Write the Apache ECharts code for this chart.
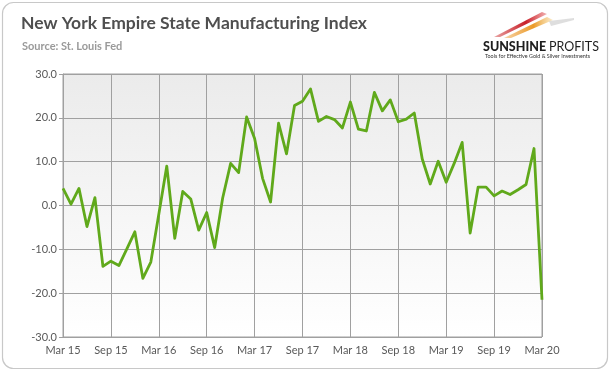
<!DOCTYPE html>
<html>
<head>
<meta charset="utf-8">
<script src="https://cdn.jsdelivr.net/npm/echarts@6/dist/echarts.min.js"></script>
<style>
html,body{margin:0;padding:0;background:#fff;}
#c{width:611px;height:372px;}
</style>
</head>
<body>
<div id="c"></div>
<script>
const months = [
 'Mar 15','Apr 15','May 15','Jun 15','Jul 15','Aug 15','Sep 15','Oct 15','Nov 15','Dec 15',
 'Jan 16','Feb 16','Mar 16','Apr 16','May 16','Jun 16','Jul 16','Aug 16','Sep 16','Oct 16','Nov 16','Dec 16',
 'Jan 17','Feb 17','Mar 17','Apr 17','May 17','Jun 17','Jul 17','Aug 17','Sep 17','Oct 17','Nov 17','Dec 17',
 'Jan 18','Feb 18','Mar 18','Apr 18','May 18','Jun 18','Jul 18','Aug 18','Sep 18','Oct 18','Nov 18','Dec 18',
 'Jan 19','Feb 19','Mar 19','Apr 19','May 19','Jun 19','Jul 19','Aug 19','Sep 19','Oct 19','Nov 19','Dec 19',
 'Jan 20','Feb 20','Mar 20'
];
const indexValues = [
 3.9, 0.3, 3.9, -4.8, 1.8, -13.9, -12.7, -13.7, -9.9, -6.0,
 -16.6, -12.9, -2.0, 9.0, -7.5, 3.2, 1.5, -5.6, -1.6, -9.6, 1.7, 9.6,
 7.5, 20.2, 15.3, 6.2, 0.8, 18.8, 11.8, 22.8, 23.8, 26.6, 19.2, 20.3,
 19.6, 17.7, 23.6, 17.4, 17.0, 25.8, 21.6, 24.1, 19.1, 19.7, 21.1, 10.6,
 4.9, 10.1, 5.3, 9.6, 14.4, -6.3, 4.2, 4.2, 2.2, 3.3, 2.5, 3.6,
 4.8, 13.0, -21.5
];
const yTicks = [-30, -20, -10, 0, 10, 20, 30];
const labelEvery = 6;

const chart = echarts.init(document.getElementById('c'), null, {renderer: 'canvas'});
const gridColor = '#a0a0a0';
const font = 'Lato, "Open Sans", sans-serif';

chart.setOption({
  animation: false,
  backgroundColor: '#fff',
  graphic: [
    {type: 'rect', shape: {x: 2.5, y: 2.5, width: 605, height: 366, r: 11},
     style: {fill: 'none', stroke: '#c8c8c8', lineWidth: 1.2}, z: -10},
    {type: 'text', left: 21, top: 14,
     style: {text: 'New York Empire State Manufacturing Index', fill: '#4f4f4f',
             font: 'bold 17.5px ' + font}},
    {type: 'text', left: 22, top: 41,
     style: {text: 'Source: St. Louis Fed', fill: '#9a9a9a', font: 'bold 11px ' + font}},
    {type: 'polygon', shape: {points: [[494, 37], [542, 12], [547, 14], [500, 37]]},
     style: {fill: new echarts.graphic.LinearGradient(0, 0, 1, 0, [
       {offset: 0, color: 'rgba(200,30,30,0.4)'}, {offset: 0.6, color: '#c8202a'}, {offset: 1, color: 'rgba(220,60,60,0.4)'}])}},
    {type: 'polygon', shape: {points: [[504, 38], [547, 17], [553, 20], [511, 38]]},
     style: {fill: new echarts.graphic.LinearGradient(0, 0, 1, 0, [
       {offset: 0, color: 'rgba(235,150,40,0.4)'}, {offset: 0.6, color: '#eb9a28'}, {offset: 1, color: 'rgba(240,190,90,0.3)'}])}},
    {type: 'polygon', shape: {points: [[549, 21], [574, 18], [574, 20], [551, 26]]},
     style: {fill: 'rgba(200,200,200,0.6)'}},
    {type: 'text', left: 483, top: 40,
     style: {rich: {a: {font: '900 12.5px ' + font, fill: '#1e1e1e'}, b: {font: '12.5px ' + font, fill: '#1e1e1e'}},
             text: '{a|SUNSHINE }{b|PROFITS}'}},
    {type: 'text', left: 485, top: 54,
     style: {text: 'Tools for Effective Gold & Silver Investments', fill: '#333', font: '5.4px ' + font}}
  ],
  grid: {
    left: 63, right: 69, top: 74, bottom: 35, containLabel: false,
    show: true, borderColor: gridColor, borderWidth: 1,
    backgroundColor: new echarts.graphic.LinearGradient(0, 0, 0, 1, [
      {offset: 0, color: '#ebebeb'}, {offset: 1, color: '#ffffff'}])
  },
  xAxis: {
    type: 'category', data: months, boundaryGap: false,
    axisLine: {show: true, lineStyle: {color: gridColor}},
    axisTick: {show: false},
    axisLabel: {interval: (i) => i % labelEvery === 0, color: '#595959', fontSize: 11,
                fontFamily: font, margin: 8, showMaxLabel: true},
    splitLine: {show: true, interval: (i) => i % labelEvery === 0, lineStyle: {color: gridColor, width: 1}}
  },
  yAxis: {
    type: 'value', min: yTicks[0], max: yTicks[yTicks.length - 1], interval: 10,
    axisLine: {show: true, lineStyle: {color: gridColor}},
    axisTick: {show: true, length: 4, lineStyle: {color: gridColor}},
    axisLabel: {formatter: (v) => v.toFixed(1), color: '#595959', fontSize: 11, fontFamily: font, margin: 6},
    splitLine: {show: true, lineStyle: {color: gridColor, width: 1}}
  },
  series: [{
    type: 'line', data: indexValues, showSymbol: false, symbol: 'none',
    lineStyle: {color: '#60a91b', width: 2.8, join: 'round'},
    z: 5
  }]
});
</script>
</body>
</html>
